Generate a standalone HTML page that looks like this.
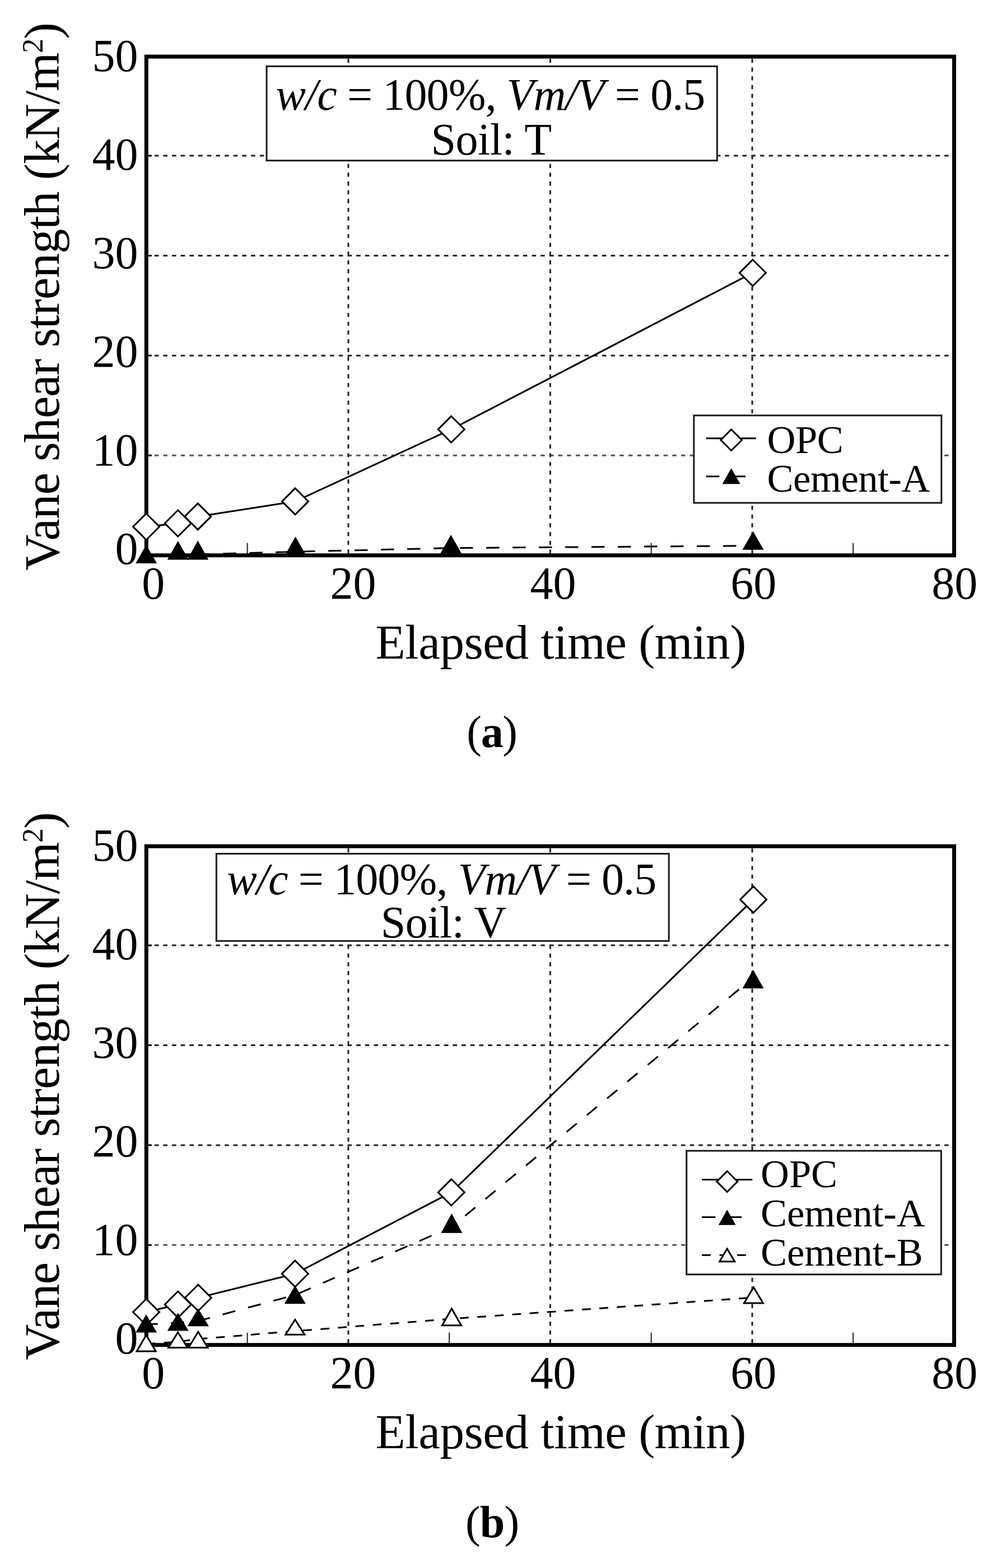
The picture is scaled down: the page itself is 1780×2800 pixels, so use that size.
<!DOCTYPE html>
<html><head><meta charset="utf-8"><title>Vane shear strength</title>
<style>
html,body{margin:0;padding:0;background:#fff;}
body{width:1780px;height:2800px;overflow:hidden;}
svg{display:block;font-family:"Liberation Serif", "Times New Roman", serif;}
text{fill:#000;}
</style></head>
<body>
<svg width="1780" height="2800" viewBox="0 0 1780 2800">
<rect width="1780" height="2800" fill="#fff"/>
<line x1="275.7" y1="813.3" x2="1698.5" y2="813.3" stroke="#555" stroke-width="3" stroke-dasharray="7.6 8.07"/>
<line x1="261.3" y1="813.3" x2="271" y2="813.3" stroke="#000" stroke-width="3"/>
<line x1="275.7" y1="634.9" x2="1698.5" y2="634.9" stroke="#222" stroke-width="3" stroke-dasharray="7.6 8.07"/>
<line x1="261.3" y1="634.9" x2="271" y2="634.9" stroke="#000" stroke-width="3"/>
<line x1="275.7" y1="456.5" x2="1698.5" y2="456.5" stroke="#222" stroke-width="3" stroke-dasharray="7.6 8.07"/>
<line x1="261.3" y1="456.5" x2="271" y2="456.5" stroke="#000" stroke-width="3"/>
<line x1="275.7" y1="278.1" x2="1698.5" y2="278.1" stroke="#222" stroke-width="3" stroke-dasharray="7.6 8.07"/>
<line x1="261.3" y1="278.1" x2="271" y2="278.1" stroke="#000" stroke-width="3"/>
<line x1="621.9" y1="104.9" x2="621.9" y2="988.7" stroke="#222" stroke-width="3" stroke-dasharray="7.4 8.25"/>
<line x1="982.4" y1="104.9" x2="982.4" y2="988.7" stroke="#222" stroke-width="3" stroke-dasharray="7.4 8.25"/>
<line x1="1343" y1="104.9" x2="1343" y2="988.7" stroke="#222" stroke-width="3" stroke-dasharray="7.4 8.25"/>
<line x1="441.6" y1="969.7" x2="441.6" y2="991.7" stroke="#222" stroke-width="2"/>
<line x1="802.1" y1="969.7" x2="802.1" y2="991.7" stroke="#222" stroke-width="2"/>
<line x1="1162.7" y1="969.7" x2="1162.7" y2="991.7" stroke="#222" stroke-width="2"/>
<line x1="1523.2" y1="969.7" x2="1523.2" y2="991.7" stroke="#222" stroke-width="2"/>
<rect x="261.3" y="101.1" width="1442.2" height="890.6" fill="none" stroke="#000" stroke-width="7"/>
<rect x="476" y="118.4" width="804.3" height="168.3" fill="#fff" stroke="#1a1a1a" stroke-width="3"/>
<text x="875.5" y="196" font-size="80" text-anchor="middle" letter-spacing="-0.9"><tspan font-style="italic">w/c</tspan> = 100%, <tspan font-style="italic">Vm/V</tspan> = 0.5</text>
<text x="877" y="275.5" font-size="80" text-anchor="middle" letter-spacing="-0.5">Soil: T</text>
<rect x="1238.8" y="741.9" width="442" height="156.1" fill="#fff" stroke="#1a1a1a" stroke-width="3"/>
<line x1="1260.7" y1="782.7" x2="1349.6" y2="782.7" stroke="#000" stroke-width="3"/>
<path d="M1305.6 766.9L1324.4 785.7L1305.6 804.5L1286.8 785.7Z" fill="#fff" stroke="#000" stroke-width="3" stroke-linejoin="miter"/>
<line x1="1260.7" y1="850.8" x2="1331.1" y2="850.8" stroke="#000" stroke-width="3" stroke-dasharray="23.7 23.5"/>
<path d="M1305.6 836.1L1321.6 864.3L1289.6 864.3Z" fill="#000"/>
<text x="1369.5" y="808.5" font-size="70.5" letter-spacing="-0.4">OPC</text>
<text x="1369.5" y="878.3" font-size="70.5" letter-spacing="-0.4">Cement-A</text>
<polyline points="261.1,940.5 317.7,934.5 353.2,922.4 527,895.4 805.7,766.7 1343.9,487.2" fill="none" stroke="#000" stroke-width="3"/>
<path d="M261.1 917L284.6 940.5L261.1 964L237.6 940.5Z" fill="#fff" stroke="#000" stroke-width="3" stroke-linejoin="miter"/>
<path d="M317.7 911L341.2 934.5L317.7 958L294.2 934.5Z" fill="#fff" stroke="#000" stroke-width="3" stroke-linejoin="miter"/>
<path d="M353.2 898.9L376.7 922.4L353.2 945.9L329.7 922.4Z" fill="#fff" stroke="#000" stroke-width="3" stroke-linejoin="miter"/>
<path d="M527 871.9L550.5 895.4L527 918.9L503.5 895.4Z" fill="#fff" stroke="#000" stroke-width="3" stroke-linejoin="miter"/>
<path d="M805.7 743.2L829.2 766.7L805.7 790.2L782.2 766.7Z" fill="#fff" stroke="#000" stroke-width="3" stroke-linejoin="miter"/>
<path d="M1343.9 463.7L1367.4 487.2L1343.9 510.7L1320.4 487.2Z" fill="#fff" stroke="#000" stroke-width="3" stroke-linejoin="miter"/>
<polyline points="261.1,993 317.7,991 353.2,990 527.5,985.2 805.1,978.6 1344.5,974.6" fill="none" stroke="#000" stroke-width="3" stroke-dasharray="23.5 23.5" stroke-dashoffset="3.9"/>
<path d="M261.1 973L280.1 1006L242.1 1006Z" fill="#000"/>
<path d="M317.7 966.1L336.7 999.5L298.7 999.5Z" fill="#000"/>
<path d="M353.2 965.5L372.2 999.5L334.2 999.5Z" fill="#000"/>
<path d="M527.5 958.2L546.5 991.7L508.5 991.7Z" fill="#000"/>
<path d="M805.1 955.1L824.1 988.5L786.1 988.5Z" fill="#000"/>
<path d="M1344.5 948.7L1363.5 981.8L1325.5 981.8Z" fill="#000"/>
<text x="246.5" y="1007.1" font-size="82" text-anchor="end">0</text>
<text x="246.5" y="831.1" font-size="82" text-anchor="end">10</text>
<text x="246.5" y="655.2" font-size="82" text-anchor="end">20</text>
<text x="246.5" y="479.2" font-size="82" text-anchor="end">30</text>
<text x="246.5" y="303.3" font-size="82" text-anchor="end">40</text>
<text x="246.5" y="127.3" font-size="82" text-anchor="end">50</text>
<text x="273.8" y="1068.5" font-size="82" text-anchor="middle">0</text>
<text x="630.5" y="1068.5" font-size="82" text-anchor="middle">20</text>
<text x="987.6" y="1068.5" font-size="82" text-anchor="middle">40</text>
<text x="1345.3" y="1068.5" font-size="82" text-anchor="middle">60</text>
<text x="1704.3" y="1068.5" font-size="82" text-anchor="middle">80</text>
<text x="670.5" y="1176" font-size="87" letter-spacing="-0.3">Elapsed time (min)</text>
<text transform="translate(104.5 1018.7) rotate(-90)" font-size="89" letter-spacing="-1.1">Vane shear strength (kN/m<tspan dy="-29" font-size="52">2</tspan><tspan dy="29">)</tspan></text>
<line x1="275.7" y1="2223.3" x2="1698.5" y2="2223.3" stroke="#555" stroke-width="3" stroke-dasharray="7.6 8.07"/>
<line x1="261.3" y1="2223.3" x2="271" y2="2223.3" stroke="#000" stroke-width="3"/>
<line x1="275.7" y1="2044.9" x2="1698.5" y2="2044.9" stroke="#222" stroke-width="3" stroke-dasharray="7.6 8.07"/>
<line x1="261.3" y1="2044.9" x2="271" y2="2044.9" stroke="#000" stroke-width="3"/>
<line x1="275.7" y1="1866.5" x2="1698.5" y2="1866.5" stroke="#222" stroke-width="3" stroke-dasharray="7.6 8.07"/>
<line x1="261.3" y1="1866.5" x2="271" y2="1866.5" stroke="#000" stroke-width="3"/>
<line x1="275.7" y1="1688.1" x2="1698.5" y2="1688.1" stroke="#222" stroke-width="3" stroke-dasharray="7.6 8.07"/>
<line x1="261.3" y1="1688.1" x2="271" y2="1688.1" stroke="#000" stroke-width="3"/>
<line x1="621.9" y1="1514.9" x2="621.9" y2="2398.7" stroke="#222" stroke-width="3" stroke-dasharray="7.4 8.25"/>
<line x1="982.4" y1="1514.9" x2="982.4" y2="2398.7" stroke="#222" stroke-width="3" stroke-dasharray="7.4 8.25"/>
<line x1="1343" y1="1514.9" x2="1343" y2="2398.7" stroke="#222" stroke-width="3" stroke-dasharray="7.4 8.25"/>
<line x1="441.6" y1="2379.7" x2="441.6" y2="2401.7" stroke="#222" stroke-width="2"/>
<line x1="802.1" y1="2379.7" x2="802.1" y2="2401.7" stroke="#222" stroke-width="2"/>
<line x1="1162.7" y1="2379.7" x2="1162.7" y2="2401.7" stroke="#222" stroke-width="2"/>
<line x1="1523.2" y1="2379.7" x2="1523.2" y2="2401.7" stroke="#222" stroke-width="2"/>
<rect x="261.3" y="1511.1" width="1442.2" height="890.6" fill="none" stroke="#000" stroke-width="7"/>
<rect x="386.3" y="1524.5" width="807.9" height="155.8" fill="#fff" stroke="#1a1a1a" stroke-width="3"/>
<text x="788.3" y="1596.5" font-size="80" text-anchor="middle" letter-spacing="-0.9"><tspan font-style="italic">w/c</tspan> = 100%, <tspan font-style="italic">Vm/V</tspan> = 0.5</text>
<text x="791.7" y="1673.6" font-size="80" text-anchor="middle" letter-spacing="-0.5">Soil: V</text>
<rect x="1225.7" y="2055" width="454.6" height="220.8" fill="#fff" stroke="#1a1a1a" stroke-width="3"/>
<line x1="1253.1" y1="2106.6" x2="1343.2" y2="2106.6" stroke="#000" stroke-width="3"/>
<path d="M1298.2 2091.4L1316.7 2109.9L1298.2 2128.4L1279.7 2109.9Z" fill="#fff" stroke="#000" stroke-width="3" stroke-linejoin="miter"/>
<line x1="1253.1" y1="2173.5" x2="1324.3" y2="2173.5" stroke="#000" stroke-width="3" stroke-dasharray="24 23"/>
<path d="M1298.2 2160.2L1313.6 2187.6L1282.8 2187.6Z" fill="#000"/>
<line x1="1253.1" y1="2241.2" x2="1332.8" y2="2241.2" stroke="#000" stroke-width="3" stroke-dasharray="15.7 15.8"/>
<path d="M1298.2 2230L1311.7 2252.7L1284.7 2252.7Z" fill="#fff" stroke="#000" stroke-width="3" stroke-linejoin="miter"/>
<text x="1358" y="2119.7" font-size="70.5">OPC</text>
<text x="1358" y="2189.9" font-size="70.5">Cement-A</text>
<text x="1358" y="2260.3" font-size="70.5">Cement-B</text>
<polyline points="261.1,2343 317.7,2329.5 353.8,2317.5 526.8,2274.5 805.8,2129.2 1345,1606.4" fill="none" stroke="#000" stroke-width="3"/>
<path d="M261.1 2319.5L284.6 2343L261.1 2366.5L237.6 2343Z" fill="#fff" stroke="#000" stroke-width="3" stroke-linejoin="miter"/>
<path d="M317.7 2306L341.2 2329.5L317.7 2353L294.2 2329.5Z" fill="#fff" stroke="#000" stroke-width="3" stroke-linejoin="miter"/>
<path d="M353.8 2294L377.3 2317.5L353.8 2341L330.3 2317.5Z" fill="#fff" stroke="#000" stroke-width="3" stroke-linejoin="miter"/>
<path d="M526.8 2251L550.3 2274.5L526.8 2298L503.3 2274.5Z" fill="#fff" stroke="#000" stroke-width="3" stroke-linejoin="miter"/>
<path d="M805.8 2105.7L829.3 2129.2L805.8 2152.7L782.3 2129.2Z" fill="#fff" stroke="#000" stroke-width="3" stroke-linejoin="miter"/>
<path d="M1345 1582.9L1368.5 1606.4L1345 1629.9L1321.5 1606.4Z" fill="#fff" stroke="#000" stroke-width="3" stroke-linejoin="miter"/>
<polyline points="261.1,2365 317.7,2362 353.8,2359 526.8,2312.5 806.4,2191 1344.5,1746" fill="none" stroke="#000" stroke-width="3" stroke-dasharray="23.5 23.5" stroke-dashoffset="2.9"/>
<path d="M261.1 2347.2L280.1 2379.4L242.1 2379.4Z" fill="#000"/>
<path d="M317.7 2344.4L336.7 2376.6L298.7 2376.6Z" fill="#000"/>
<path d="M353.8 2336.6L372.8 2368.3L334.8 2368.3Z" fill="#000"/>
<path d="M526.8 2295.2L545.8 2328.2L507.8 2328.2Z" fill="#000"/>
<path d="M806.4 2166.8L825.4 2201.8L787.4 2201.8Z" fill="#000"/>
<path d="M1344.5 1731.4L1363.5 1765L1325.5 1765Z" fill="#000"/>
<polyline points="261.1,2400 317.7,2396 353.8,2391 526.8,2377 806.4,2355 1345.4,2317" fill="none" stroke="#000" stroke-width="3" stroke-dasharray="15.7 15.5" stroke-dashoffset="30.8"/>
<path d="M261.1 2384L278.1 2413L244.1 2413Z" fill="#fff" stroke="#000" stroke-width="3" stroke-linejoin="miter"/>
<path d="M317.7 2379.2L334.7 2406.5L300.7 2406.5Z" fill="#fff" stroke="#000" stroke-width="3" stroke-linejoin="miter"/>
<path d="M353.8 2378.1L370.8 2406.5L336.8 2406.5Z" fill="#fff" stroke="#000" stroke-width="3" stroke-linejoin="miter"/>
<path d="M526.8 2356.5L543.8 2383.2L509.8 2383.2Z" fill="#fff" stroke="#000" stroke-width="3" stroke-linejoin="miter"/>
<path d="M806.4 2336.8L823.4 2366.8L789.4 2366.8Z" fill="#fff" stroke="#000" stroke-width="3" stroke-linejoin="miter"/>
<path d="M1345.4 2298.7L1362.4 2327.1L1328.4 2327.1Z" fill="#fff" stroke="#000" stroke-width="3" stroke-linejoin="miter"/>
<text x="246.5" y="2417.1" font-size="82" text-anchor="end">0</text>
<text x="246.5" y="2241.1" font-size="82" text-anchor="end">10</text>
<text x="246.5" y="2065.2" font-size="82" text-anchor="end">20</text>
<text x="246.5" y="1889.2" font-size="82" text-anchor="end">30</text>
<text x="246.5" y="1713.3" font-size="82" text-anchor="end">40</text>
<text x="246.5" y="1537.3" font-size="82" text-anchor="end">50</text>
<text x="273.8" y="2478.5" font-size="82" text-anchor="middle">0</text>
<text x="630.5" y="2478.5" font-size="82" text-anchor="middle">20</text>
<text x="987.6" y="2478.5" font-size="82" text-anchor="middle">40</text>
<text x="1345.3" y="2478.5" font-size="82" text-anchor="middle">60</text>
<text x="1704.3" y="2478.5" font-size="82" text-anchor="middle">80</text>
<text x="670.5" y="2586" font-size="87" letter-spacing="-0.3">Elapsed time (min)</text>
<text transform="translate(104.5 2428.7) rotate(-90)" font-size="89" letter-spacing="-1.1">Vane shear strength (kN/m<tspan dy="-29" font-size="52">2</tspan><tspan dy="29">)</tspan></text>
<text x="878" y="1334" font-size="80" text-anchor="middle" letter-spacing="-1.3">(<tspan font-weight="bold">a</tspan>)</text>
<text x="878.6" y="2744.5" font-size="80" text-anchor="middle" letter-spacing="-0.8">(<tspan font-weight="bold">b</tspan>)</text>
</svg>
</body></html>
